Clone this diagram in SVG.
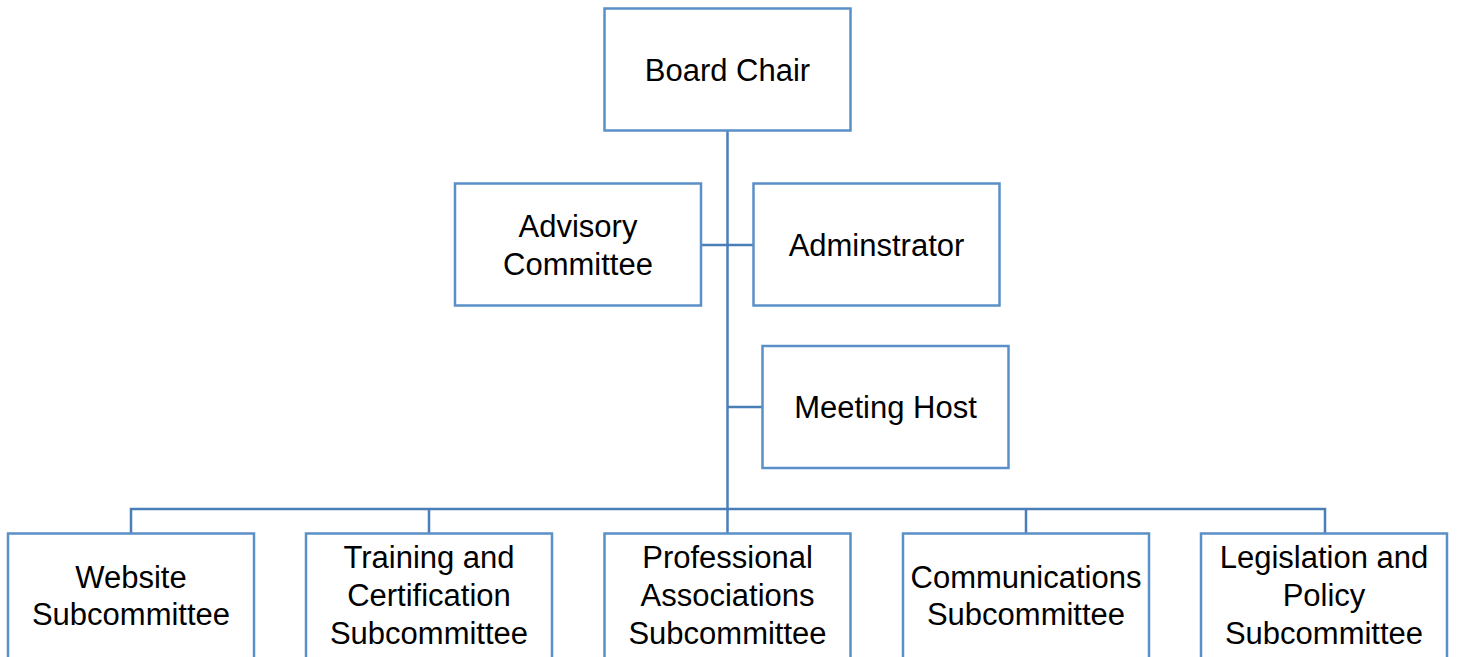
<svg xmlns="http://www.w3.org/2000/svg" width="1457" height="657" viewBox="0 0 1457 657">
<style>
.box{fill:#fff;stroke:#5B8FC8;stroke-width:2.5}
.lbl{font-family:"Liberation Sans",Arial,sans-serif;font-size:31px;fill:#000;text-anchor:middle}
.con{fill:none;stroke:#4A7EB6;stroke-width:2.5}
</style>
<rect width="1457" height="657" fill="#fff"/>
<g id="connectors">
<path class="con" d="M727.5 131V533"/>
<path class="con" d="M701 245H753"/>
<path class="con" d="M727.5 407H762"/>
<path class="con" d="M131 533V509H1325V533"/>
<path class="con" d="M429 509V533M1026 509V533"/>
</g>
<g id="board-chair"><rect class="box" x="604.5" y="8.5" width="246" height="122"/><text class="lbl" x="727.5" y="81">Board Chair</text></g>
<g id="advisory-committee"><rect class="box" x="455" y="183.5" width="246" height="122"/><text class="lbl" x="578" y="237">Advisory</text><text class="lbl" x="578" y="275">Committee</text></g>
<g id="adminstrator"><rect class="box" x="753.5" y="183.5" width="246" height="122"/><text class="lbl" x="876.5" y="256">Adminstrator</text></g>
<g id="meeting-host"><rect class="box" x="762.5" y="346" width="246" height="122"/><text class="lbl" x="885.5" y="418">Meeting Host</text></g>
<g id="website"><rect class="box" x="8" y="533.5" width="246" height="130"/><text class="lbl" x="131" y="588">Website</text><text class="lbl" x="131" y="625">Subcommittee</text></g>
<g id="training"><rect class="box" x="306" y="533.5" width="246" height="130"/><text class="lbl" x="429" y="568">Training and</text><text class="lbl" x="429" y="606">Certification</text><text class="lbl" x="429" y="644">Subcommittee</text></g>
<g id="professional"><rect class="box" x="604.5" y="533.5" width="246" height="130"/><text class="lbl" x="727.5" y="568">Professional</text><text class="lbl" x="727.5" y="606">Associations</text><text class="lbl" x="727.5" y="644">Subcommittee</text></g>
<g id="communications"><rect class="box" x="903" y="533.5" width="246" height="130"/><text class="lbl" x="1026" y="588">Communications</text><text class="lbl" x="1026" y="625">Subcommittee</text></g>
<g id="legislation"><rect class="box" x="1201" y="533.5" width="246" height="130"/><text class="lbl" x="1324" y="568">Legislation and</text><text class="lbl" x="1324" y="606">Policy</text><text class="lbl" x="1324" y="644">Subcommittee</text></g>
</svg>
